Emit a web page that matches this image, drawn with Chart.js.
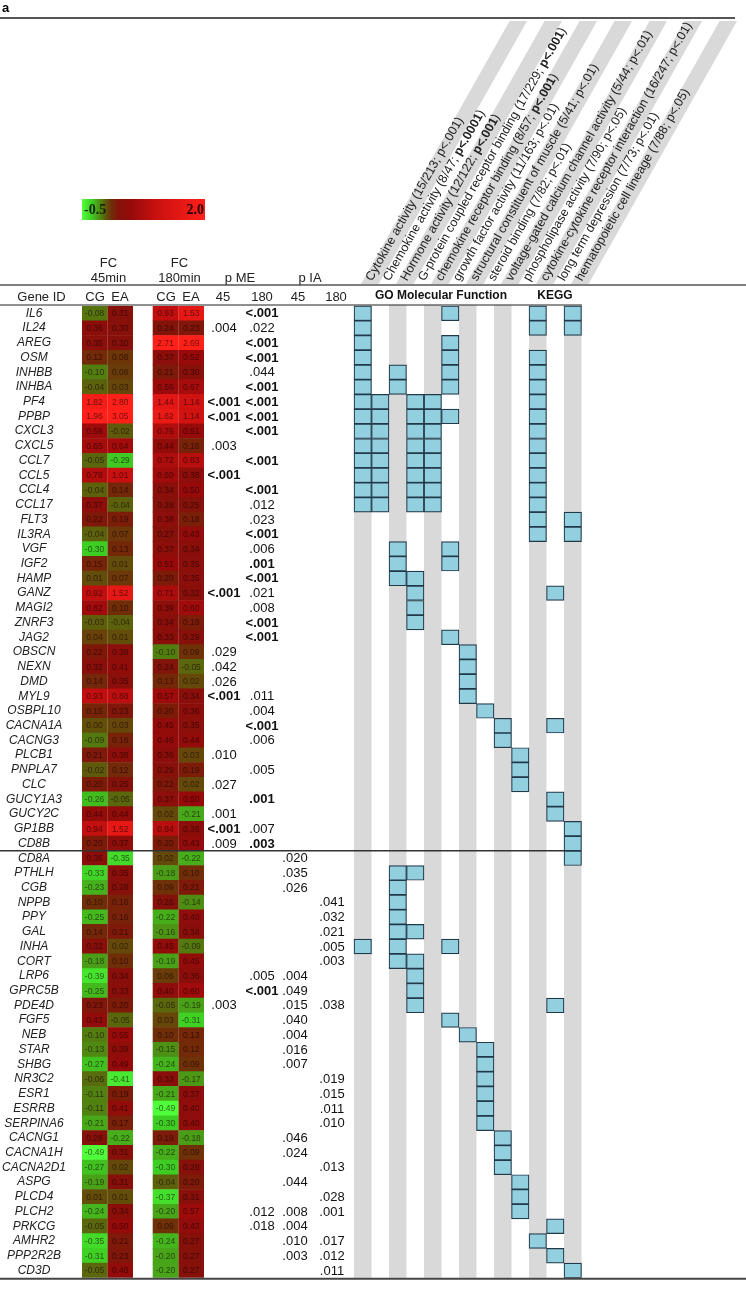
<!DOCTYPE html>
<html>
<head>
<meta charset="utf-8">
<script src="https://cdn.jsdelivr.net/npm/chart.js@4/dist/chart.umd.min.js"></script>
<style>
  html, body { margin: 0; padding: 0; background: #fff; }
</style>
</head>
<body>
<canvas id="fig" width="746" height="1293"></canvas>
<script>
// ---- data ----
const genes = ['IL6','IL24','AREG','OSM','INHBB','INHBA','PF4','PPBP','CXCL3','CXCL5',
  'CCL7','CCL5','CCL4','CCL17','FLT3','IL3RA','VGF','IGF2','HAMP','GANZ',
  'MAGI2','ZNRF3','JAG2','OBSCN','NEXN','DMD','MYL9','OSBPL10','CACNA1A','CACNG3',
  'PLCB1','PNPLA7','CLC','GUCY1A3','GUCY2C','GP1BB','CD8B','CD8A','PTHLH','CGB',
  'NPPB','PPY','GAL','INHA','CORT','LRP6','GPRC5B','PDE4D','FGF5','NEB',
  'STAR','SHBG','NR3C2','ESR1','ESRRB','SERPINA6','CACNG1','CACNA1H','CACNA2D1','ASPG',
  'PLCD4','PLCH2','PRKCG','AMHR2','PPP2R2B','CD3D']

const fcCG45 = [-0.08,0.36,0.35,0.12,-0.10,-0.04,1.82,1.96,0.58,0.65,
  -0.05,0.78,-0.04,0.37,0.22,-0.04,-0.30,0.15,0.01,0.92,
  0.62,-0.03,0.04,0.22,0.32,0.14,0.93,0.15,0.00,-0.09,
  0.21,-0.02,0.20,-0.26,0.44,0.94,0.20,0.36,-0.33,-0.23,
  0.10,-0.25,0.14,0.32,-0.18,-0.39,-0.25,0.23,0.43,-0.10,
  -0.13,-0.27,-0.06,-0.11,-0.11,-0.21,0.28,-0.49,-0.27,-0.19,
  0.01,-0.24,-0.05,-0.35,-0.31,-0.05]
const fcEA45 = [0.31,0.30,0.30,0.08,0.06,0.03,2.80,3.05,-0.02,0.64,
  -0.29,1.01,0.14,-0.04,0.19,0.07,0.13,0.01,0.07,1.52,
  0.10,-0.04,0.01,0.38,0.41,0.35,0.88,0.23,0.03,0.16,
  0.38,0.12,0.25,-0.05,0.44,1.52,0.37,-0.35,0.35,0.28,
  0.16,0.16,0.21,0.02,0.10,0.34,0.33,0.20,-0.05,0.55,
  0.39,0.49,-0.41,0.19,0.41,0.17,-0.22,0.31,0.02,0.31,
  0.01,0.34,0.50,0.21,0.23,0.46]
const fcCG180 = [0.93,0.24,2.71,0.37,0.21,0.56,1.44,1.62,0.76,0.44,
  0.72,0.60,0.34,0.28,0.38,0.27,0.37,0.51,0.20,0.71,
  0.39,0.34,0.33,-0.10,0.24,0.13,0.57,0.20,0.45,0.46,
  0.36,0.29,0.22,0.37,0.02,0.84,0.20,0.02,-0.18,0.09,
  0.26,-0.22,-0.16,0.45,-0.19,0.06,0.40,-0.05,0.03,0.10,
  -0.15,-0.24,0.33,-0.21,-0.49,-0.30,0.19,-0.22,-0.30,-0.04,
  -0.37,-0.20,0.09,-0.24,-0.20,-0.20]
const fcEA180 = [1.53,0.23,2.69,0.52,0.30,0.67,1.14,1.14,0.51,0.16,
  0.83,0.38,0.50,0.25,0.18,0.43,0.34,0.35,0.35,0.32,
  0.60,0.19,0.29,0.09,-0.05,0.02,0.34,0.36,0.35,0.44,
  0.03,0.19,0.02,0.50,-0.21,0.36,0.43,-0.22,0.10,0.21,
  -0.14,0.40,0.34,-0.09,0.45,0.36,0.60,-0.19,-0.31,0.13,
  0.12,0.09,-0.17,0.37,0.40,0.40,-0.18,0.09,0.28,0.20,
  0.31,0.57,0.43,0.27,0.27,0.27]

// p values, '*' = printed bold
const pME45 = { IL24: '.004', PF4: '<.001*', PPBP: '<.001*', CXCL5: '.003', CCL5: '<.001*',
  GANZ: '<.001*', OBSCN: '.029', NEXN: '.042', DMD: '.026', MYL9: '<.001*', PLCB1: '.010',
  CLC: '.027', GUCY2C: '.001', GP1BB: '<.001*', CD8B: '.009', PDE4D: '.003' }
const pME180 = { IL6: '<.001*', IL24: '.022', AREG: '<.001*', OSM: '<.001*', INHBB: '.044',
  INHBA: '<.001*', PF4: '<.001*', PPBP: '<.001*', CXCL3: '<.001*', CCL7: '<.001*', CCL4: '<.001*',
  CCL17: '.012', FLT3: '.023', IL3RA: '<.001*', VGF: '.006', IGF2: '.001*', HAMP: '<.001*',
  GANZ: '.021', MAGI2: '.008', ZNRF3: '<.001*', JAG2: '<.001*', MYL9: '.011', OSBPL10: '.004',
  CACNA1A: '<.001*', CACNG3: '.006', PNPLA7: '.005', GUCY1A3: '.001*', GP1BB: '.007',
  CD8B: '.003*', LRP6: '.005', GPRC5B: '<.001*', PLCH2: '.012', PRKCG: '.018' }
const pIA45 = { CD8A: '.020', PTHLH: '.035', CGB: '.026', LRP6: '.004', GPRC5B: '.049',
  PDE4D: '.015', FGF5: '.040', NEB: '.004', STAR: '.016', SHBG: '.007', CACNG1: '.046',
  CACNA1H: '.024', ASPG: '.044', PLCH2: '.008', PRKCG: '.004', AMHR2: '.010', PPP2R2B: '.003' }
const pIA180 = { NPPB: '.041', PPY: '.032', GAL: '.021', INHA: '.005', CORT: '.003', PDE4D: '.038',
  NR3C2: '.019', ESR1: '.015', ESRRB: '.011', SERPINA6: '.010', CACNA2D1: '.013', PLCD4: '.028',
  PLCH2: '.001', AMHR2: '.017', PPP2R2B: '.012', CD3D: '.011' }

// GO / KEGG terms ('**' marks bold text)
const termLabels = [
  'Cytokine activity (15/213; p<.001)',
  'Chemokine activity (8/47; **p<.0001**)',
  'Hormone activity (12/122; **p<.001**)',
  'G-protein coupled receptor binding (17/229; **p<.001**)',
  'chemokine receptor binding (8/57; **p<.001**)',
  'growth factor activity (11/163; p<.01)',
  'structural constituent of muscle (5/41; p<.01)',
  'steroid binding (7/82; p<.01)',
  'voltage-gated calcium channel activity (5/44; p<.01)',
  'phospholipase activity (7/90; p<.05)',
  'cytokine-cytokine receptor interaction (16/247; p<.01)',
  'long term depression (7/73; p<.01)',
  'hematopoietic cell lineage (7/88; p<.05)'
]
const chemokines = ['PF4','PPBP','CXCL3','CXCL5','CCL7','CCL5','CCL4','CCL17']
const termGenes = [
  ['IL6','IL24','AREG','OSM','INHBB','INHBA', ...chemokines, 'INHA'],
  chemokines,
  ['INHBB','INHBA','VGF','IGF2','HAMP','PTHLH','CGB','NPPB','PPY','GAL','INHA','CORT'],
  [...chemokines, 'HAMP','GANZ','MAGI2','ZNRF3','PTHLH','GAL','CORT','LRP6','GPRC5B','PDE4D'],
  chemokines,
  ['IL6','AREG','OSM','INHBB','INHBA','PPBP','VGF','IGF2','JAG2','INHA','FGF5'],
  ['OBSCN','NEXN','DMD','MYL9','NEB'],
  ['OSBPL10','STAR','SHBG','NR3C2','ESR1','ESRRB','SERPINA6'],
  ['CACNA1A','CACNG3','CACNG1','CACNA1H','CACNA2D1'],
  ['PLCB1','PNPLA7','CLC','ASPG','PLCD4','PLCH2'],
  ['IL6','IL24','OSM','INHBB','INHBA', ...chemokines, 'FLT3','IL3RA','AMHR2'],
  ['GANZ','CACNA1A','GUCY1A3','GUCY2C','PDE4D','PRKCG','PPP2R2B'],
  ['IL6','IL24','FLT3','IL3RA','GP1BB','CD8B','CD8A','CD3D']
]

// ---- layout ----
const FONT = '"Liberation Sans", Arial, sans-serif'
const fcX = [81.7, 107.3, 152.7, 178.3]
const fcW = 25.7
const termX0 = 354
const termW = 17.5
const slant = 0.565
const pCols = [
  { vals: pME45, x: 224 }, { vals: pME180, x: 262 },
  { vals: pIA45, x: 295 }, { vals: pIA180, x: 332 }
]

const colorStops = [
  [-0.5, [80, 255, 60]], [-0.3, [62, 205, 35]], [-0.1, [82, 125, 15]], [0, [98, 80, 10]],
  [0.1, [112, 46, 8]], [0.25, [132, 18, 10]], [0.5, [150, 10, 10]], [1.0, [200, 16, 16]],
  [2.0, [255, 32, 26]]
]
function fcColor (v) {
  if (v <= colorStops[0][0]) return 'rgb(' + colorStops[0][1] + ')'
  for (let i = 1; i < colorStops.length; i++) {
    const [v1, c1] = colorStops[i]
    if (v <= v1) {
      const [v0, c0] = colorStops[i - 1]
      const t = (v - v0) / (v1 - v0)
      return 'rgb(' + c0.map((c, k) => Math.round(c + (c1[k] - c) * t)).join(',') + ')'
    }
  }
  return 'rgb(' + colorStops[colorStops.length - 1][1] + ')'
}

const fcSeries = [fcCG45, fcEA45, fcCG180, fcEA180]
const heatDatasets = fcSeries.map((vals, k) => ({
  label: 'fc' + k,
  data: vals.map(() => [fcX[k], fcX[k] + fcW]),
  backgroundColor: vals.map(fcColor),
  borderWidth: 0,
  barPercentage: 1.04,
  categoryPercentage: 1,
  grouped: false,
  order: 1
}))

const termDatasets = termGenes.map((list, j) => {
  const x = termX0 + termW * j
  return {
    label: termLabels[j],
    data: genes.map(g => list.includes(g) ? [x, x + termW] : null),
    backgroundColor: '#93d0df',
    borderColor: '#22394a',
    borderWidth: 1.2,
    borderSkipped: false,
    barPercentage: 1,
    categoryPercentage: 1,
    grouped: false,
    order: 0
  }
})

function richText (ctx, text, x, y, size) {
  let cx = x
  text.split('**').forEach((part, k) => {
    ctx.font = (k % 2 ? 'bold ' : '') + size + 'px ' + FONT
    ctx.fillText(part, cx, y)
    cx += ctx.measureText(part).width
  })
}

const figurePlugin = {
  id: 'figure',
  beforeDatasetsDraw (chart) {
    const { ctx, chartArea } = chart
    ctx.save()
    ctx.fillStyle = '#d9d9d9'
    termLabels.forEach((t, j) => {
      if (j % 2) return
      const x = termX0 + termW * j
      ctx.fillRect(x, 305, termW, chartArea.bottom - 305)
      const yb = 284, yt = 21, dx = slant * (yb - yt)
      ctx.beginPath()
      ctx.moveTo(x + 7, yb)
      ctx.lineTo(x + 7 + termW, yb)
      ctx.lineTo(x + 7 + termW + dx, yt)
      ctx.lineTo(x + 7 + dx, yt)
      ctx.closePath()
      ctx.fill()
    })
    ctx.restore()
  },
  afterDatasetsDraw (chart) {
    const { ctx, chartArea } = chart
    const yScale = chart.scales.y
    ctx.save()

    // values inside heatmap cells
    ctx.textAlign = 'center'
    ctx.textBaseline = 'middle'
    ctx.font = '8.5px ' + FONT
    ctx.fillStyle = 'rgba(20,0,0,0.6)'
    fcSeries.forEach((vals, k) => {
      vals.forEach((v, i) => {
        ctx.fillText(v.toFixed(2), fcX[k] + fcW / 2, yScale.getPixelForValue(i) + 0.5)
      })
    })

    // p values
    ctx.fillStyle = '#111'
    pCols.forEach(col => {
      Object.entries(col.vals).forEach(([g, s]) => {
        const bold = s.endsWith('*')
        ctx.font = (bold ? 'bold ' : '') + '13px ' + FONT
        ctx.fillText(s.replace('*', ''), col.x, yScale.getPixelForValue(genes.indexOf(g)) + 0.5)
      })
    })

    // rules
    ctx.strokeStyle = '#555'
    ctx.lineWidth = 2
    ctx.beginPath(); ctx.moveTo(0, 18); ctx.lineTo(735, 18); ctx.stroke()
    ctx.lineWidth = 1.6
    ctx.beginPath(); ctx.moveTo(0, 285); ctx.lineTo(746, 285); ctx.stroke()
    ctx.strokeStyle = '#222'
    ctx.lineWidth = 1.2
    ctx.beginPath(); ctx.moveTo(0, 305); ctx.lineTo(582, 305); ctx.stroke()
    const split = genes.indexOf('CD8A')
    const ys = (yScale.getPixelForValue(split - 1) + yScale.getPixelForValue(split)) / 2
    ctx.strokeStyle = '#333'
    ctx.lineWidth = 1.6
    ctx.beginPath(); ctx.moveTo(0, ys); ctx.lineTo(564, ys); ctx.stroke()
    ctx.strokeStyle = '#444'
    ctx.lineWidth = 2
    ctx.beginPath(); ctx.moveTo(0, chartArea.bottom + 1); ctx.lineTo(746, chartArea.bottom + 1); ctx.stroke()

    // panel letter
    ctx.fillStyle = '#000'
    ctx.textAlign = 'left'
    ctx.font = 'bold 13px ' + FONT
    ctx.fillText('a', 2, 8)

    // colour key
    const kx0 = 82, kx1 = 205
    const grad = ctx.createLinearGradient(kx0, 0, kx1, 0)
    colorStops.forEach(([v, c]) => grad.addColorStop((v + 0.5) / 2.5, 'rgb(' + c + ')'))
    ctx.fillStyle = grad
    ctx.fillRect(kx0, 199, kx1 - kx0, 21)
    ctx.font = 'bold 14px "Liberation Serif", serif'
    ctx.fillStyle = '#142400'
    ctx.textAlign = 'left'
    ctx.fillText('-0.5', 84, 210)
    ctx.fillStyle = '#2a0000'
    ctx.textAlign = 'right'
    ctx.fillText('2.0', 204, 210)

    // column headers
    ctx.fillStyle = '#222'
    ctx.textAlign = 'center'
    ctx.font = '13px ' + FONT
    ctx.fillText('FC', 108.5, 263)
    ctx.fillText('45min', 108.5, 278)
    ctx.fillText('FC', 179.5, 263)
    ctx.fillText('180min', 179.5, 278)
    ctx.fillText('p ME', 240, 278)
    ctx.fillText('p IA', 310, 278)
    const heads = [['Gene ID', 41.5], ['CG', 95], ['EA', 120], ['CG', 166], ['EA', 191],
      ['45', 223], ['180', 262], ['45', 298], ['180', 336]]
    heads.forEach(([t, x]) => ctx.fillText(t, x, 297))
    ctx.font = 'bold 12px ' + FONT
    ctx.fillStyle = '#111'
    ctx.fillText('GO Molecular Function', 441, 296)
    ctx.fillText('KEGG', 555, 296)

    // slanted term labels
    const ang = -Math.atan2(1, slant)
    ctx.textAlign = 'left'
    ctx.fillStyle = '#222'
    termLabels.forEach((t, j) => {
      const x = termX0 + termW * j + 15
      ctx.save()
      ctx.translate(x, 280)
      ctx.rotate(ang)
      richText(ctx, t, 0, 0, 12.5)
      ctx.restore()
    })
    ctx.restore()
  }
}

new Chart(document.getElementById('fig'), {
  type: 'bar',
  data: {
    labels: genes,
    datasets: [...termDatasets, ...heatDatasets]
  },
  options: {
    responsive: false,
    animation: false,
    indexAxis: 'y',
    layout: { padding: { top: 306, bottom: 8, left: 0, right: 0 } },
    plugins: {
      legend: { display: false },
      tooltip: { enabled: false }
    },
    scales: {
      x: { type: 'linear', min: 82, max: 746, display: false },
      y: {
        type: 'category',
        offset: true,
        grid: { display: false },
        border: { display: false },
        afterFit: scale => { scale.width = 82 },
        ticks: {
          autoSkip: false,
          crossAlign: 'center',
          padding: 8,
          color: '#222',
          font: { family: FONT, size: 12, style: 'italic' }
        }
      }
    }
  },
  plugins: [figurePlugin]
})
</script>
</body>
</html>
